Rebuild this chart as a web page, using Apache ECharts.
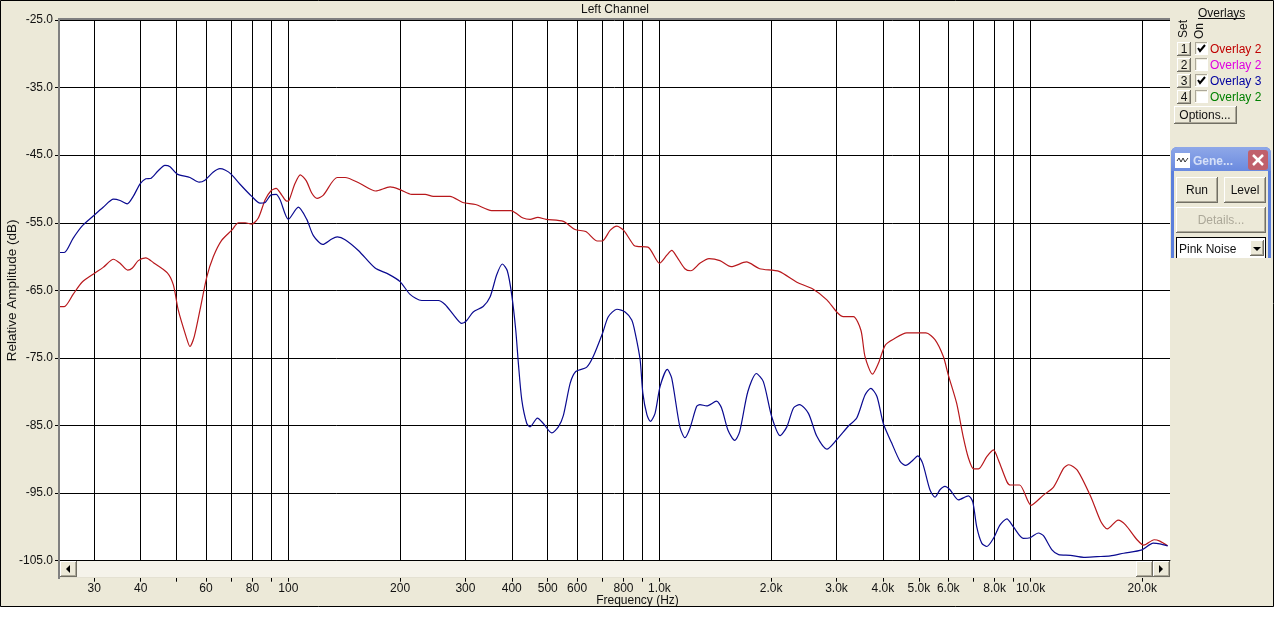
<!DOCTYPE html>
<html>
<head>
<meta charset="utf-8">
<style>html,body{margin:0;padding:0;background:#fff}#c{width:1274px;height:637px}</style>
<script src="https://cdn.jsdelivr.net/npm/echarts@6/dist/echarts.min.js"></script>
</head>
<body>
<div id="c"></div>
<script>
const chartTitle = 'Left Channel';
const xName = 'Frequency (Hz)';
const yName = 'Relative Amplitude (dB)';
const freqMin = 24.1, freqMax = 23750;
const ampMin = -105, ampMax = -25;
const ampTicks = [-105,-95,-85,-75,-65,-55,-45,-35,-25];
const freqTicks = [30,40,50,60,70,80,90,100,200,300,400,500,600,700,800,900,1000,2000,3000,4000,5000,6000,7000,8000,9000,10000,20000];
const freqLabels = [30,40,60,80,100,200,300,400,500,600,800,1000,2000,3000,4000,5000,6000,8000,10000,20000];

const redHz = [24.1,24.9,26.3,27.8,30,31.7,33.8,35.2,36.9,38,39.4,41.3,43.3,47.2,49,50.5,53,54.3,55.8,57.8,60.3,62.8,66.1,70.4,73.4,76.5,79.7,83,86.6,89.7,92.7,96,99,100.4,104.2,107.7,111.8,115.6,119.5,124.3,135.3,142.2,156,171.9,188,200,215,233.6,245.8,272.7,295,319.5,353,398,411,429,448,470,495,551,592,633,680,701,737,768,800,852,870,931,1000,1047,1079,1113,1171,1215,1285,1360,1455,1560,1715,1862,2100,2345,2590,2825,3003,3130,3330,3490,3580,3750,3890,4060,4280,4640,5225,5525,5820,6000,6320,6580,6800,7020,7240,7620,7940,8190,8630,8820,9340,10030,10830,11530,12280,12680,13360,14520,15460,16100,17220,18020,19360,20190,21520,22300,23400];
const redDb = [-67.4,-67.4,-65.6,-63.8,-62.5,-61.6,-60.4,-61.0,-62.0,-61.7,-60.6,-60.2,-60.9,-62.4,-64.2,-67.9,-71.8,-73.3,-71.8,-67.9,-63.0,-60.0,-57.6,-56.1,-55.0,-55.0,-55.2,-54.3,-51.6,-50.3,-49.9,-50.9,-51.8,-51.7,-49.2,-47.9,-48.8,-50.6,-51.4,-50.9,-48.3,-48.3,-49.2,-50.3,-49.7,-50.1,-50.8,-50.8,-51.1,-51.1,-52.0,-52.3,-53.2,-53.2,-53.6,-54.3,-54.5,-54.2,-54.5,-54.8,-56.0,-56.3,-57.7,-57.7,-56.1,-55.5,-56.1,-58.3,-58.5,-58.6,-61.0,-59.8,-59.1,-60.0,-61.8,-62.1,-61.0,-60.3,-60.6,-61.5,-60.8,-61.8,-62.2,-63.8,-64.8,-66.4,-68.2,-68.9,-68.9,-70.9,-74.8,-77.4,-75.8,-73.1,-72.2,-71.3,-71.3,-72.3,-74.8,-77.5,-81.7,-86.6,-89.8,-91.4,-91.4,-89.6,-88.6,-90.1,-93.3,-93.8,-93.8,-96.8,-95.3,-94.1,-91.3,-90.8,-91.6,-95.5,-99.2,-100.3,-99.0,-99.7,-101.9,-102.7,-101.9,-102.1,-102.8];

const blueHz = [24.1,24.9,26.3,27.8,29.8,31.7,33.8,35.2,36.8,38.2,39.9,41.3,42.7,44.6,46.5,48,50.2,54.3,57.5,59.6,62.8,65.4,67.5,70.1,74.1,79.7,83.9,86.6,89.7,92.7,95,100,106.4,112.1,116.8,123.8,130.9,135.5,142.2,154.4,171.3,186,200,212.8,228.8,253.6,264.4,278.4,293.3,302,314.9,334.9,349.5,364.3,377.2,389,400,410,416.7,425.6,439,448,469,486.5,512.6,534,551,575,595,636,663,703,728,768,808,842,860,887,902,925,945,973,1004,1050,1079,1135,1171,1208,1259,1285,1340,1425,1470,1530,1595,1645,1730,1824,1905,2007,2114,2204,2297,2385,2520,2655,2825,3003,3240,3400,3580,3710,3855,4010,4225,4450,4610,4785,4970,5120,5355,5525,5700,5880,6065,6390,6800,6985,7160,7385,7620,7940,8275,8630,8990,9560,9970,10500,10830,11420,11900,12800,13900,15100,16400,17820,19950,21400,22300,23400];
const blueDb = [-59.4,-59.4,-57.3,-55.5,-54.0,-52.7,-51.5,-51.7,-52.2,-51.1,-49.2,-48.5,-48.4,-47.3,-46.5,-46.7,-47.8,-48.3,-49.0,-48.7,-47.5,-47.0,-47.2,-47.8,-49.3,-51.1,-52.1,-52.0,-50.9,-50.8,-51.6,-54.5,-52.7,-54.5,-56.9,-58.2,-57.4,-57.1,-57.5,-59.1,-61.7,-62.6,-63.7,-65.6,-66.5,-66.5,-67.1,-68.6,-69.9,-69.5,-68.2,-67.4,-66.0,-62.7,-61.1,-62.1,-65.7,-70.9,-75.8,-81.2,-84.7,-85.2,-83.9,-84.7,-86.1,-85.2,-83.5,-78.7,-77.0,-76.4,-74.8,-71.3,-68.9,-67.8,-68.2,-69.4,-71.3,-75.3,-80.2,-83.4,-84.4,-83.2,-79.2,-76.7,-78.0,-85.2,-86.8,-85.4,-82.2,-81.9,-82.1,-81.4,-82.4,-85.7,-87.2,-85.9,-80.0,-77.3,-78.5,-83.7,-86.5,-85.2,-82.4,-81.9,-83.2,-86.6,-88.5,-87.1,-85.0,-83.9,-80.5,-79.5,-80.7,-84.7,-87.6,-90.3,-90.9,-90.3,-89.5,-90.6,-94.5,-95.6,-94.5,-94.0,-94.5,-96.0,-95.4,-96.3,-100.0,-102.4,-102.9,-101.7,-99.7,-98.8,-100.0,-101.7,-101.6,-100.9,-101.3,-103.4,-104.1,-104.2,-104.5,-104.4,-104.3,-103.9,-103.4,-102.4,-102.5,-102.8];

const overlayNames = ['Overlay 2','Overlay 2','Overlay 3','Overlay 2'];
const overlayColors = ['#C00000','#E000E0','#0000A0','#008000'];
const overlayOn = [true,false,true,false];

const FONT = 'Liberation Sans';
const PANEL = '#ECE9D8';
const RED = '#B8181C', BLUE = '#0A0A90';
const g = [];
const rect = (x,y,w,h,fill,extra) => g.push(Object.assign({type:'rect',z:20,silent:true,shape:{x,y,width:w,height:h},style:{fill}},extra||{}));
const txt = (x,y,text,fill,opt) => {
  opt = opt||{};
  g.push({type:'text',z:30,silent:true,x,y,rotation:opt.rotation||0,
    style:{text,fill,font:(opt.weight||'normal')+' '+(opt.size||12)+'px "'+FONT+'"',textAlign:opt.align||'left',textVerticalAlign:'middle'}});
};
const bevel = (x,y,w,h,fill) => {
  rect(x,y,w,h,'#716F64');
  rect(x,y,w-1,h-1,'#FFFFFF');
  rect(x+1,y+1,w-2,h-2,'#ACA899');
  rect(x+1,y+1,w-3,h-3,fill||PANEL);
};
const sunken = (x,y,w,h) => {
  rect(x,y,w,h,'#FFFFFF');
  rect(x,y,w-1,h-1,'#ACA899');
  rect(x+1,y+1,w-2,h-2,'#F1EFE2');
  rect(x+2,y+2,w-3,h-3,'#FFFFFF');
};

// page below the window, and its frame
rect(0,607,1274,30,'#FFFFFF');
g.push({type:'rect',z:19,silent:true,shape:{x:0.5,y:0.5,width:1273,height:606},style:{fill:null,stroke:'#000',lineWidth:1}});

// plot frame
rect(58,18,1112,2,'#808080');
rect(58,18,2,561,'#808080');

// scrollbar
rect(60,561,1110,16,'#F5F3EA');
rect(60,577,1110,1,'#E4E1D2');
bevel(60,561,17,16);
g.push({type:'polygon',z:30,silent:true,shape:{points:[[70,565],[70,573],[66,569]]},style:{fill:'#000'}});
bevel(1136,561,17,16);
bevel(1153,561,17,16);
g.push({type:'polygon',z:30,silent:true,shape:{points:[[1159,565],[1159,573],[1163,569]]},style:{fill:'#000'}});

// overlays panel
txt(1198,14,'Overlays','#111');
rect(1198,18,47,1,'#111');
txt(1184,29,'Set','#111',{rotation:Math.PI/2,align:'center'});
txt(1200,31,'On','#111',{rotation:Math.PI/2,align:'center'});
overlayNames.forEach((name,i) => {
  const y = 42 + i*16;
  bevel(1177,y,14,14);
  txt(1184,y+7.5,String(i+1),'#111',{align:'center'});
  sunken(1195,y,13,13);
  if (overlayOn[i]) {
    g.push({type:'polyline',z:30,silent:true,shape:{points:[[1198,y+6],[1200,y+9],[1205,y+3]]},style:{stroke:'#000',lineWidth:2,fill:null}});
  }
  txt(1210,y+8,name,overlayColors[i]);
});
bevel(1174,106,63,18);
txt(1205,116,'Options...','#111',{align:'center'});

// generator window
rect(1171,147,100,111,'#5A7EDC',{shape:{x:1171,y:147,width:100,height:111,r:[6,6,0,0]}});
g.push({type:'rect',z:20,silent:true,shape:{x:1171,y:147,width:100,height:24,r:[6,6,0,0]},
  style:{fill:{type:'linear',x:0,y:0,x2:0,y2:1,colorStops:[{offset:0,color:'#8FA8E8'},{offset:1,color:'#6A8ADF'}]}}});
rect(1174,171,94,87,PANEL);
rect(1175,153,15,15,'#FFFFFF');
g.push({type:'polyline',z:30,silent:true,shape:{points:[[1177,161],[1179,158],[1181,162],[1183,158],[1185,162],[1188,158]]},style:{stroke:'#333',lineWidth:1,fill:null}});
txt(1193,162,'Gene...','#D5E0F8',{weight:'bold'});
rect(1248,150,20,20,'#C0606C',{shape:{x:1248,y:150,width:20,height:20,r:3}});
g.push({type:'line',z:30,silent:true,shape:{x1:1253,y1:155,x2:1263,y2:165},style:{stroke:'#fff',lineWidth:2.5}});
g.push({type:'line',z:30,silent:true,shape:{x1:1263,y1:155,x2:1253,y2:165},style:{stroke:'#fff',lineWidth:2.5}});
bevel(1176,177,42,26);
txt(1197,191,'Run','#111',{align:'center'});
bevel(1224,177,42,26);
txt(1245,191,'Level','#111',{align:'center'});
bevel(1176,207,90,26);
txt(1221,221,'Details...','#ACA899',{align:'center'});
rect(1176,237,90,21,'#000');
rect(1177,238,88,20,'#FFFFFF');
txt(1179,250,'Pink Noise','#111');
bevel(1250,240,14,16);
g.push({type:'polygon',z:30,silent:true,shape:{points:[[1253,247],[1261,247],[1257,251]]},style:{fill:'#000'}});

const fmtHz = v => v >= 1000 ? (v/1000).toFixed(1)+'k' : String(v);
const pairs = (xs,ys) => xs.map((x,i) => [x,ys[i]]);

const chart = echarts.init(document.getElementById('c'),null,{renderer:'canvas'});
chart.setOption({
  animation:false,
  backgroundColor:PANEL,
  title:{text:chartTitle,left:615,top:4,padding:0,textAlign:'center',textStyle:{fontFamily:FONT,fontSize:12,fontWeight:'normal',color:'#111'}},
  grid:{left:59,top:20,width:1111,height:540.7,show:true,backgroundColor:'#FFFFFF',borderWidth:0,containLabel:false,outerBoundsMode:'none'},
  xAxis:{type:'log',min:freqMin,max:freqMax,logBase:10,
    name:xName,nameLocation:'middle',nameGap:34,nameMoveOverlap:false,
    nameTextStyle:{fontFamily:FONT,fontSize:12,color:'#111',padding:[0,0,0,46]},
    axisLine:{show:true,onZero:false,lineStyle:{color:'#000',width:1}},
    axisTick:{show:true,length:21,customValues:freqTicks,lineStyle:{color:'#000',width:1}},
    minorTick:{show:false},minorSplitLine:{show:false},
    axisLabel:{show:true,customValues:freqLabels,margin:22,fontFamily:FONT,fontSize:12,color:'#111',formatter:fmtHz},
    splitLine:{show:true,lineStyle:{color:'#000',width:1}}},
  yAxis:{type:'value',min:ampMin,max:ampMax,
    name:yName,nameLocation:'middle',nameGap:40,nameMoveOverlap:false,
    nameTextStyle:{fontFamily:FONT,fontSize:13.5,color:'#111'},
    axisLine:{show:false},
    axisTick:{show:true,length:4,customValues:ampTicks,lineStyle:{color:'#000',width:1}},
    axisLabel:{show:true,customValues:ampTicks,margin:6,padding:[2,0,0,0],fontFamily:FONT,fontSize:12,color:'#111',formatter:v => v.toFixed(1)},
    splitLine:{show:true,lineStyle:{color:'#000',width:1}}},
  series:[
    {name:'Overlay 2',type:'line',data:pairs(redHz,redDb),showSymbol:false,smooth:0.25,lineStyle:{color:RED,width:1.2},itemStyle:{color:RED},z:3},
    {name:'Overlay 3',type:'line',data:pairs(blueHz,blueDb),showSymbol:false,smooth:0.25,lineStyle:{color:BLUE,width:1.2},itemStyle:{color:BLUE},z:4}
  ],
  graphic:{elements:g}
});
</script>
</body>
</html>
